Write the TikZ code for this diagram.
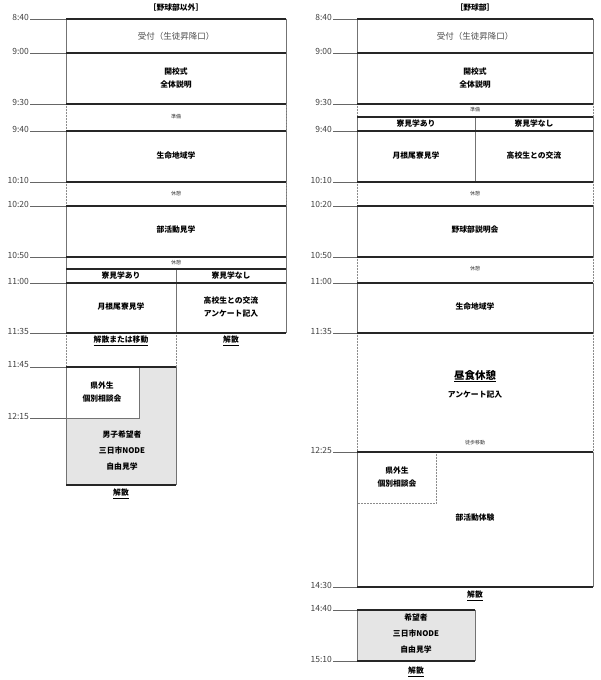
\documentclass[tikz,border=0pt]{standalone}
\usepackage{fontspec}
\setmainfont{Noto Sans CJK JP}
\begin{document}
\begin{tikzpicture}[x=1pt,y=-1pt,
 hl/.style={line width=1.1pt,black!85},
 vl/.style={line width=0.6pt,black!55},
 dl/.style={line width=0.5pt,black!45,densely dotted},
 tk/.style={line width=0.6pt,black!60},
 tm/.style={anchor=east,font=\fontsize{8.5}{9}\selectfont,text=black!75,inner sep=1pt},
 bt/.style={font=\fontsize{7.8}{13}\selectfont\bfseries,align=center,inner sep=0pt},
 st/.style={font=\fontsize{5}{5}\selectfont,text=black!80,inner sep=0pt},
 nt/.style={font=\fontsize{8.5}{9}\selectfont,text=black!70,inner sep=0pt},
 ul/.style={font=\fontsize{7.8}{8}\selectfont\bfseries,inner sep=1pt}]
\useasboundingbox (0,0) rectangle (600,680);
% ===== LEFT =====
\node[bt] (hL) at (176,8) {［野球部以外］};
\foreach \y/\t in {19/8:40,53/9:00,104/9:30,131/9:40,182/10:10,206/10:20,257/10:50,283/11:00,333/11:35,367/11:45,418/12:15}{
 \draw[tk] (30,\y) -- (66,\y); \node[tm] at (30,\y-2) {\t};}
\fill[black!10] (66,367) rectangle (176,485);
\fill[white] (66,367) rectangle (139,418);
\draw[vl] (139,367) -- (139,418) -- (66,418);
\draw[vl] (66,19) -- (66,104) (66,131)--(66,182) (66,206)--(66,333) (286,19)--(286,333);
\draw[dl] (66,104)--(66,131) (66,182)--(66,206) (286,104)--(286,131) (286,182)--(286,206);
\draw[dl] (66,333)--(66,367) (176,333)--(176,367);
\draw[vl] (66,367)--(66,485) (176,367)--(176,485) (176,269)--(176,333);
\foreach \y in {19,53,104,131,182,206,257,269,283,333}{\draw[hl] (66,\y)--(286,\y);}
\draw[hl] (66,367)--(176,367) (66,485)--(176,485);
\node[nt] (a1) at (176,36) {受付（生徒昇降口）};
\node[bt] (a2) at (176,78) {開校式\\全体説明};
\node[st] (a3) at (176,117) {準備};
\node[bt] (a4) at (176,156) {生命地域学};
\node[st] (a5) at (176,194) {休憩};
\node[bt] (a6) at (176,230) {部活動見学};
\node[st] (a7) at (176,263) {休憩};
\node[bt] (a8) at (121,276) {寮見学あり};
\node[bt] (a9) at (231,276) {寮見学なし};
\node[bt] (a10) at (121,307) {月根尾寮見学};
\node[bt] (a11) at (231,307) {高校生との交流\\アンケート記入};
\node[ul] (a12) at (121,341) {\underline{解散または移動}};
\node[ul] (a13) at (231,341) {\underline{解散}};
\node[bt] (a14) at (102,392) {県外生\\個別相談会};
\node[bt,font=\fontsize{7.8}{16}\selectfont\bfseries] (a15) at (122,451) {男子希望者\\三日市NODE\\自由見学};
\node[ul] (a16) at (121,494) {\underline{解散}};
% ===== RIGHT =====
\node[bt] (hR) at (475,8) {［野球部］};
\foreach \y/\t in {19/8:40,53/9:00,104/9:30,131/9:40,182/10:10,206/10:20,257/10:50,283/11:00,333/11:35,452/12:25,587/14:30,610/14:40,661/15:10}{
 \draw[tk] (333,\y) -- (357,\y); \node[tm] at (333,\y-2) {\t};}
\fill[black!10] (357,610) rectangle (475,661);
\draw[vl] (357,19)--(357,104) (357,117)--(357,182) (357,206)--(357,257) (357,283)--(357,333) (357,452)--(357,587);
\draw[vl] (593,19)--(593,104) (593,117)--(593,182) (593,206)--(593,257) (593,283)--(593,333) (593,452)--(593,587);
\draw[dl] (357,104)--(357,117) (593,104)--(593,117) (357,182)--(357,206) (593,182)--(593,206) (357,257)--(357,283) (593,257)--(593,283) (357,333)--(357,452) (593,333)--(593,452);
\draw[vl] (475,117)--(475,182);
\draw[dl] (436,452)--(436,503)--(357,503);
\foreach \y in {19,53,104,117,131,182,206,257,283,333,452,587}{\draw[hl] (357,\y)--(593,\y);}
\draw[vl] (357,610)--(357,661) (475,610)--(475,661);
\draw[hl] (357,610)--(475,610) (357,661)--(475,661);
\node[nt] (b1) at (475,36) {受付（生徒昇降口）};
\node[bt] (b2) at (475,78) {開校式\\全体説明};
\node[st] (b3) at (475,110) {準備};
\node[bt] (b4) at (416,124) {寮見学あり};
\node[bt] (b5) at (534,124) {寮見学なし};
\node[bt] (b6) at (416,156) {月根尾寮見学};
\node[bt] (b7) at (534,156) {高校生との交流};
\node[st] (b8) at (475,194) {休憩};
\node[bt] (b9) at (475,230) {野球部説明会};
\node[st] (b10) at (475,269) {休憩};
\node[bt] (b11) at (475,307) {生命地域学};
\node[font=\fontsize{10.5}{11}\selectfont\bfseries,inner sep=1pt] (b12) at (475,376) {\underline{昼食休憩}};
\node[bt] (b13) at (475,395) {アンケート記入};
\node[st] (b14) at (475,443) {徒歩移動};
\node[bt] (b15) at (397,477) {県外生\\個別相談会};
\node[bt] (b16) at (475,518) {部活動体験};
\node[ul] (b17) at (475,596) {\underline{解散}};
\node[bt,font=\fontsize{7.8}{16}\selectfont\bfseries] (b18) at (416,634) {希望者\\三日市NODE\\自由見学};
\node[ul] (b19) at (416,672) {\underline{解散}};
\end{tikzpicture}
\end{document}
